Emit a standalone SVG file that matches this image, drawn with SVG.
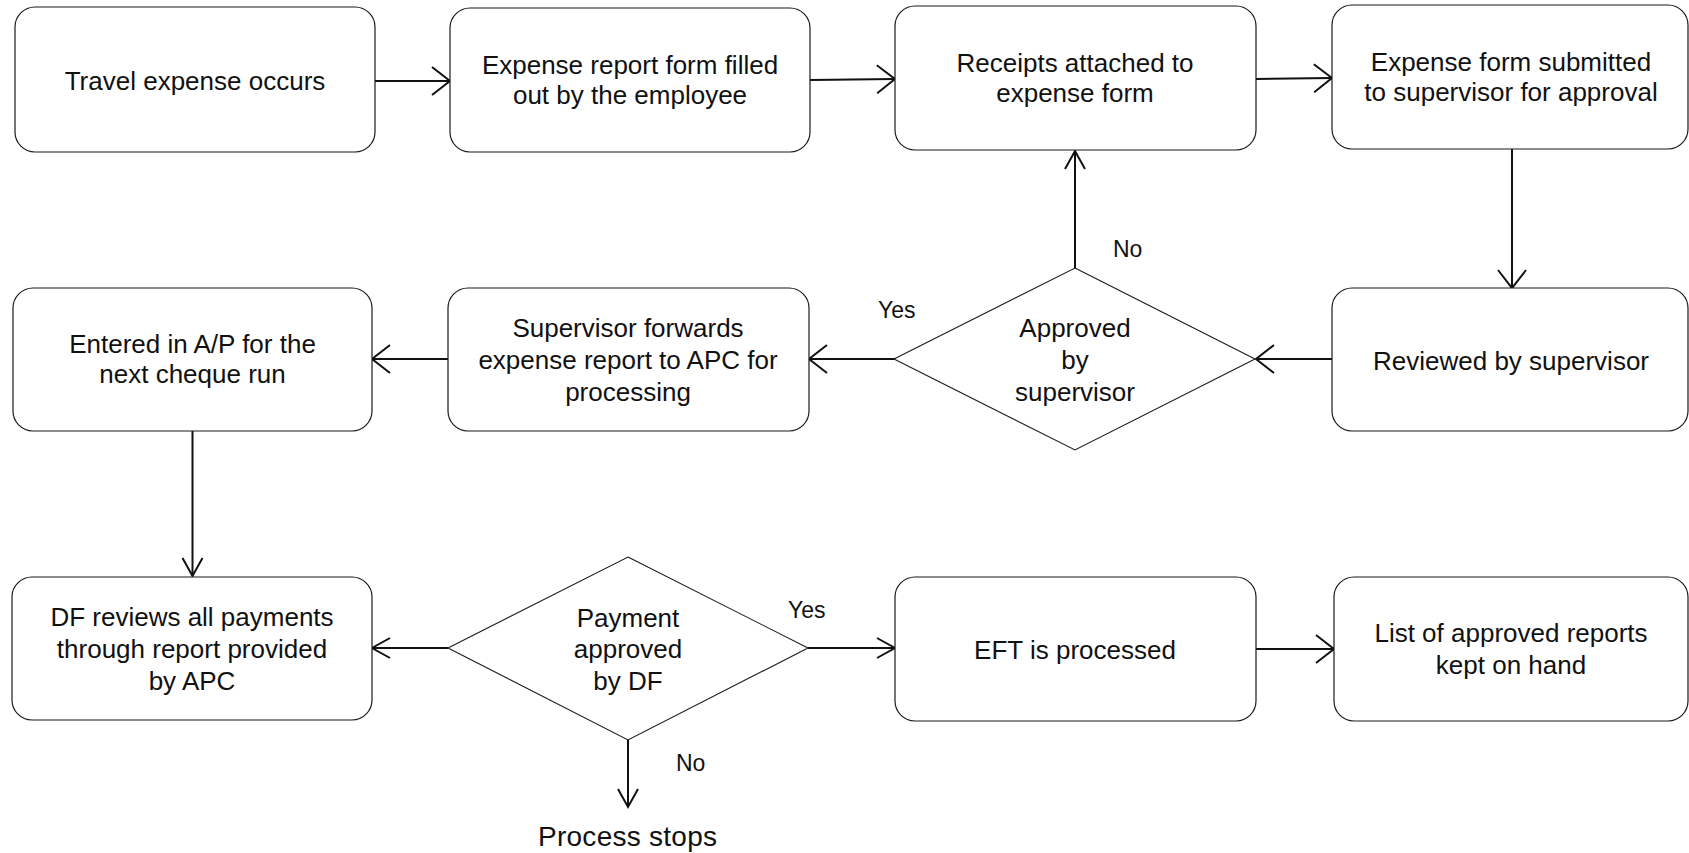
<svg xmlns="http://www.w3.org/2000/svg" width="1689" height="853" viewBox="0 0 1689 853">
<defs>
<style>
.box{fill:#fff;stroke:#1a1a1a;stroke-width:1.2}
.dia{fill:#fff;stroke:#1a1a1a;stroke-width:1.1}
.t{font-family:"Liberation Sans",Arial,sans-serif;font-size:26px;fill:#111;text-anchor:middle}
.lbl{font-family:"Liberation Sans",Arial,sans-serif;font-size:23px;fill:#111}
.end{font-family:"Liberation Sans",Arial,sans-serif;font-size:28px;fill:#111;text-anchor:middle}
.c{fill:none;stroke:#111;stroke-width:2}
.cw{marker-end:url(#aw)}
.cn{marker-end:url(#an)}
</style>
<marker id="aw" markerUnits="userSpaceOnUse" markerWidth="24" markerHeight="34" refX="20" refY="16" orient="auto" overflow="visible">
<path d="M2,2 L20,16 L2,30" fill="none" stroke="#111" stroke-width="2"/>
</marker>
<marker id="an" markerUnits="userSpaceOnUse" markerWidth="24" markerHeight="34" refX="20" refY="16" orient="auto" overflow="visible">
<path d="M2,6 L20,16 L2,26" fill="none" stroke="#111" stroke-width="2"/>
</marker>
</defs>
<rect width="1689" height="853" fill="#fff"/>

<g id="connectors">
<line class="c cw" x1="375" y1="81" x2="450" y2="81"/>
<line class="c cw" x1="810" y1="80" x2="895" y2="79"/>
<line class="c cw" x1="1256" y1="79" x2="1332" y2="78"/>
<line class="c cw" x1="1512" y1="149" x2="1512" y2="288"/>
<line class="c cw" x1="1332" y1="359" x2="1256" y2="359"/>
<line class="c cn" x1="1075" y1="268" x2="1075" y2="151"/>
<line class="c cw" x1="895" y1="359" x2="809" y2="359"/>
<line class="c cw" x1="448" y1="359" x2="372" y2="359"/>
<line class="c cn" x1="192.5" y1="431" x2="192.5" y2="576"/>
<line class="c cn" x1="448" y1="648" x2="372" y2="648"/>
<line class="c cn" x1="808" y1="648" x2="895" y2="648"/>
<line class="c cw" x1="1256" y1="649" x2="1334" y2="649"/>
<line class="c cn" x1="628" y1="740" x2="628" y2="807"/>
<text class="lbl" x="1113" y="257">No</text>
<text class="lbl" x="878" y="318">Yes</text>
<text class="lbl" x="788" y="618">Yes</text>
<text class="lbl" x="676" y="771">No</text>
</g>

<g id="n1">
<rect class="box" x="15" y="7" width="360" height="145" rx="20"/>
<text class="t" x="195" y="90">Travel expense occurs</text>
</g>
<g id="n2">
<rect class="box" x="450" y="8" width="360" height="144" rx="20"/>
<text class="t" x="630" y="74">Expense report form filled</text>
<text class="t" x="630" y="104">out by the employee</text>
</g>
<g id="n3">
<rect class="box" x="895" y="6" width="361" height="144" rx="20"/>
<text class="t" x="1075" y="72">Receipts attached to</text>
<text class="t" x="1075" y="102">expense form</text>
</g>
<g id="n4">
<rect class="box" x="1332" y="5" width="356" height="144" rx="20"/>
<text class="t" x="1511" y="71">Expense form submitted</text>
<text class="t" x="1511" y="101">to supervisor for approval</text>
</g>
<g id="n5">
<rect class="box" x="1332" y="288" width="356" height="143" rx="20"/>
<text class="t" x="1511" y="370">Reviewed by supervisor</text>
</g>
<g id="n6">
<polygon class="dia" points="1075,268 1255,359 1075,450 894,359"/>
<text class="t" x="1075" y="337">Approved</text>
<text class="t" x="1075" y="369">by</text>
<text class="t" x="1075" y="401">supervisor</text>
</g>
<g id="n7">
<rect class="box" x="448" y="288" width="361" height="143" rx="20"/>
<text class="t" x="628" y="337">Supervisor forwards</text>
<text class="t" x="628" y="369">expense report to APC for</text>
<text class="t" x="628" y="401">processing</text>
</g>
<g id="n8">
<rect class="box" x="13" y="288" width="359" height="143" rx="20"/>
<text class="t" x="192.5" y="353">Entered in A/P for the</text>
<text class="t" x="192.5" y="383">next cheque run</text>
</g>
<g id="n9">
<rect class="box" x="12" y="577" width="360" height="143" rx="20"/>
<text class="t" x="192" y="626">DF reviews all payments</text>
<text class="t" x="192" y="658">through report provided</text>
<text class="t" x="192" y="690">by APC</text>
</g>
<g id="n10">
<polygon class="dia" points="628,557 808,648 628,740 448,648"/>
<text class="t" x="628" y="627">Payment</text>
<text class="t" x="628" y="658">approved</text>
<text class="t" x="628" y="690">by DF</text>
</g>
<g id="n11">
<rect class="box" x="895" y="577" width="361" height="144" rx="20"/>
<text class="t" x="1075" y="659">EFT is processed</text>
</g>
<g id="n12">
<rect class="box" x="1334" y="577" width="354" height="144" rx="20"/>
<text class="t" x="1511" y="642">List of approved reports</text>
<text class="t" x="1511" y="674">kept on hand</text>
</g>
<g id="n13">
<text class="end" x="627.5" y="846" textLength="179" lengthAdjust="spacing">Process stops</text>
</g>
</svg>
